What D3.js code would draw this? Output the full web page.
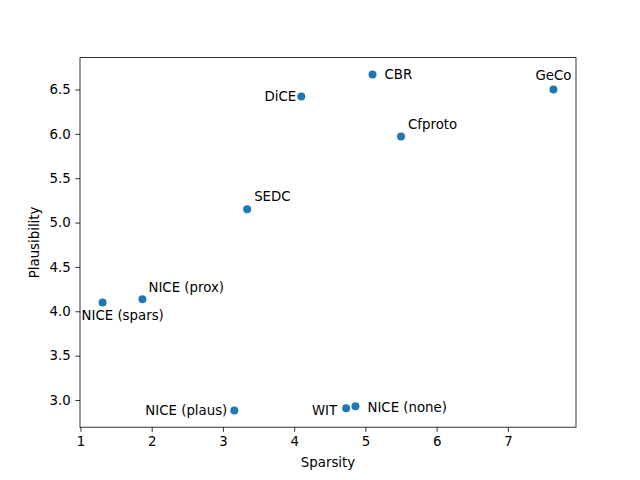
<!DOCTYPE html>
<html>
<head>
<meta charset="utf-8">
<script src="https://cdn.jsdelivr.net/npm/d3@7"></script>
<style>
  body { margin: 0; background: #fff; }
  text { font-family: "DejaVu Sans", sans-serif; font-size: 13.33px; fill: #000; }
</style>
</head>
<body>
<div id="chart"></div>
<script>
const methods = ["GeCo", "CBR", "DiCE", "Cfproto", "SEDC", "NICE (prox)", "NICE (spars)", "NICE (plaus)", "WIT", "NICE (none)"];
const sparsity = [7.64, 5.10, 4.10, 5.50, 3.34, 1.87, 1.31, 3.16, 4.73, 4.86];
const plausibility = [6.50, 6.67, 6.42, 5.97, 5.15, 4.135, 4.10, 2.883, 2.906, 2.929];
const xTicks = [1, 2, 3, 4, 5, 6, 7];
const yTicks = [3.0, 3.5, 4.0, 4.5, 5.0, 5.5, 6.0, 6.5];

// where each label sits relative to its point (px)
const labelPlacement = [
  { anchor: "middle", dx: 0, dy: -9 },
  { anchor: "start", dx: 12, dy: 5 },
  { anchor: "end", dx: -5, dy: 4 },
  { anchor: "start", dx: 7, dy: -8 },
  { anchor: "start", dx: 7, dy: -8 },
  { anchor: "start", dx: 6, dy: -7 },
  { anchor: "start", dx: -21, dy: 18 },
  { anchor: "end", dx: -7, dy: 5 },
  { anchor: "end", dx: -9, dy: 7 },
  { anchor: "start", dx: 12, dy: 6 }
];

const width = 640;
const height = 480;
const margin = { left: 80, right: 64, top: 57.6, bottom: 52.8 };

const points = methods.map((m, i) => ({ name: m, x: sparsity[i], y: plausibility[i], pos: labelPlacement[i] }));

function padded(values) {
  const lo = d3.min(values), hi = d3.max(values);
  const pad = (hi - lo) * 0.05;
  return [lo - pad, hi + pad];
}

const x = d3.scaleLinear()
    .domain(padded(sparsity))
    .range([margin.left, width - margin.right]);

const y = d3.scaleLinear()
    .domain(padded(plausibility))
    .range([height - margin.bottom, margin.top]);

const svg = d3.select("#chart")
  .append("svg")
    .attr("width", width)
    .attr("height", height)
    .attr("viewBox", [0, 0, width, height]);

// x axis
const xAxis = svg.append("g")
    .attr("transform", `translate(0,${height - margin.bottom})`)
    .call(d3.axisBottom(x).tickValues(xTicks).tickFormat(d3.format("d")).tickSizeOuter(0).tickSize(4.67).tickPadding(4.67));

// y axis
const yAxis = svg.append("g")
    .attr("transform", `translate(${margin.left},0)`)
    .call(d3.axisLeft(y).tickValues(yTicks).tickFormat(d3.format(".1f")).tickSizeOuter(0).tickSize(4.67).tickPadding(4.67));

[xAxis, yAxis].forEach(a => {
  a.select(".domain").remove();
  a.selectAll("line").attr("stroke", "#000").attr("stroke-width", 0.8);
  a.selectAll("text").attr("font-family", "DejaVu Sans").attr("font-size", 13.33).attr("fill", "#000");
});

// frame
svg.append("rect")
    .attr("x", margin.left)
    .attr("y", margin.top)
    .attr("width", width - margin.left - margin.right)
    .attr("height", height - margin.top - margin.bottom)
    .attr("fill", "none")
    .attr("stroke", "#000")
    .attr("stroke-width", 0.8);

// points
svg.append("g")
  .selectAll("circle")
  .data(points)
  .join("circle")
    .attr("cx", d => x(d.x))
    .attr("cy", d => y(d.y))
    .attr("r", 4)
    .attr("fill", "#1f77b4");

// point labels
svg.append("g")
  .selectAll("text")
  .data(points)
  .join("text")
    .attr("x", d => x(d.x) + d.pos.dx)
    .attr("y", d => y(d.y) + d.pos.dy)
    .attr("text-anchor", d => d.pos.anchor)
    .text(d => d.name);

// axis titles
svg.append("text")
    .attr("x", margin.left + (width - margin.left - margin.right) / 2)
    .attr("y", 466.5)
    .attr("text-anchor", "middle")
    .text("Sparsity");

svg.append("text")
    .attr("transform", `translate(39,${margin.top + (height - margin.top - margin.bottom) / 2}) rotate(-90)`)
    .attr("text-anchor", "middle")
    .text("Plausibility");
</script>
</body>
</html>
